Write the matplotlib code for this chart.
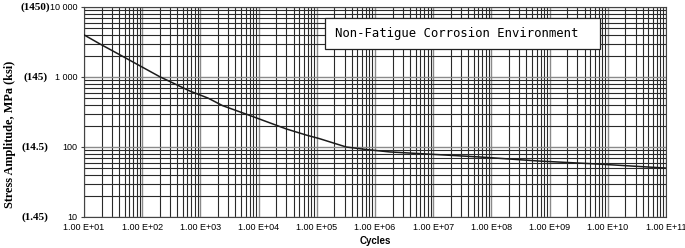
import matplotlib
matplotlib.use("Agg")
from matplotlib import pyplot as plt
from matplotlib.patches import Rectangle
from matplotlib.ticker import FixedLocator, LogLocator, NullFormatter
import numpy as np

# S-N curve
cycles = [10, 19, 42, 200, 660, 1350, 2400, 7000, 3e4, 6.6e4, 1.1e5, 3.2e5,
          8e5, 1.8e6, 8.7e6, 6.3e7, 6.6e8, 7e9, 1e11]
stress_mpa = [4000, 2950, 2060, 1010, 630, 500, 390, 283, 181, 148, 132, 100,
              91, 85, 79, 72, 63, 57, 50]

x_ticks = [10.0 ** k for k in range(1, 12)]
x_ticklabels = ["1.00 E+%02d" % k for k in range(1, 12)]
y_ticks = [10, 100, 1000, 10000]
y_ticklabels = ["10", "100", "1 000", "10 000"]
ksi_labels = ["(1.45)", "(14.5)", "(145)", "(1450)"]
box_text = "Non-Fatigue Corrosion Environment"

fig = plt.figure(figsize=(6.85, 2.48), dpi=100)
ax = fig.add_axes([84 / 685, 31 / 248, 582 / 685, 210 / 248])

ax.set_xscale("log")
ax.set_yscale("log")
ax.set_xlim(1e1, 1e11)
ax.set_ylim(10, 10000)

ax.xaxis.set_major_locator(FixedLocator(x_ticks))
ax.xaxis.set_minor_locator(LogLocator(base=10, subs=np.arange(2, 10), numticks=20))
ax.xaxis.set_minor_formatter(NullFormatter())
ax.set_xticklabels(x_ticklabels, fontsize=6.5, family="Liberation Sans")
ax.yaxis.set_major_locator(FixedLocator(y_ticks))
ax.yaxis.set_minor_locator(LogLocator(base=10, subs=np.arange(2, 10), numticks=20))
ax.yaxis.set_minor_formatter(NullFormatter())
ax.set_yticklabels(y_ticklabels, fontsize=6.5, family="Liberation Sans")
ax.tick_params(which="both", length=0, pad=4)
ax.tick_params(axis="y", which="major", length=2.5, width=0.8, color="#444444", pad=2)

ax.grid(which="minor", color="#2a2a2a", lw=0.8)
ax.grid(which="major", color="#8a8a8a", lw=1.0)
ax.set_axisbelow(True)
for s in ax.spines.values():
    s.set_color("#444444")
    s.set_linewidth(0.8)

ax.plot(cycles, stress_mpa, color="#1a1a1a", lw=1.1, zorder=3)

ax.set_xlabel("Cycles", fontsize=7, fontweight="bold", family="Liberation Sans", labelpad=3)

# ksi equivalents on the left
tr = ax.get_yaxis_transform()
for v, lab in zip(y_ticks, ksi_labels):
    ax.text(-0.084, v, lab, transform=tr, ha="center", va="center",
            fontsize=8, fontweight="bold", family="Liberation Serif")
fig.text(10 / 685, 0.46, "Stress Amplitude, MPa (ksi)", rotation=90, ha="center",
         va="center", fontsize=8.8, fontweight="bold", family="Liberation Serif")

# label box
ax.add_patch(Rectangle((0.414, 0.80), 0.473, 0.148, transform=ax.transAxes,
                       facecolor="white", edgecolor="#222222", lw=0.9, zorder=4))
ax.text(0.431, 0.874, box_text, transform=ax.transAxes, ha="left", va="center",
        fontsize=8.8, family="DejaVu Sans Mono", zorder=5)

fig.savefig("out.png", dpi=100)
